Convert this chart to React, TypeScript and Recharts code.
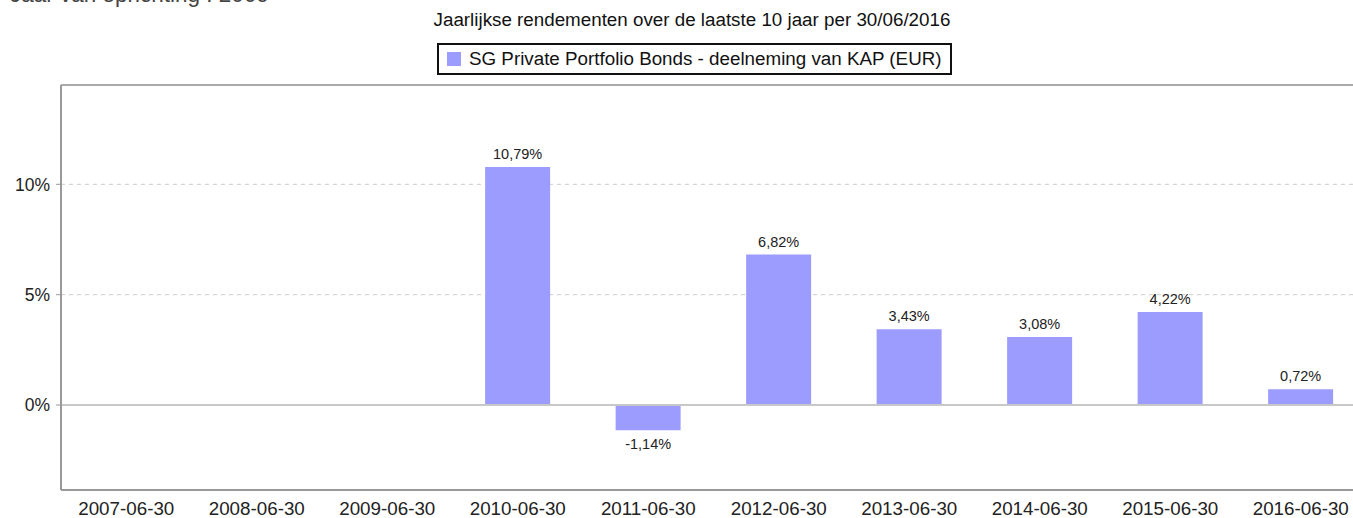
import { Bar, BarChart, CartesianGrid, LabelList, ReferenceLine, XAxis, YAxis } from 'recharts';

const periods = [
  '2007-06-30',
  '2008-06-30',
  '2009-06-30',
  '2010-06-30',
  '2011-06-30',
  '2012-06-30',
  '2013-06-30',
  '2014-06-30',
  '2015-06-30',
  '2016-06-30',
];
const returns: Array<number | null> = [null, null, null, 10.79, -1.14, 6.82, 3.43, 3.08, 4.22, 0.72];
const yTicks = [0, 5, 10];

const seriesName = 'SG Private Portfolio Bonds - deelneming van KAP (EUR)';
const barColor = '#9c9cff';

const data = periods.map((period, i) => ({ period, value: returns[i] }));

const fmt = (v: number) => `${v.toFixed(2).replace('.', ',')}%`;

function ValueLabel(props: any) {
  const { x, y, width, height, value } = props;
  if (value === null || value === undefined) return null;
  const top = Math.min(y, y + height);
  const bottom = Math.max(y, y + height);
  const cx = x + width / 2;
  return (
    <text
      x={cx}
      y={value >= 0 ? top - 8 : bottom + 19}
      textAnchor="middle"
      fontSize={14.5}
      fill="#222"
    >
      {fmt(value)}
    </text>
  );
}

export default function App() {
  return (
    <div
      style={{
        position: 'fixed',
        left: 0,
        top: 0,
        width: 1353,
        height: 518,
        overflow: 'hidden',
        background: '#fff',
        fontFamily: 'Arial, "Liberation Sans", sans-serif',
      }}
    >
      <div style={{ position: 'absolute', left: 10, top: -16, fontSize: 22.5, lineHeight: '22px', color: '#444', whiteSpace: 'nowrap' }}>
        Jaar van oprichting : 2009
      </div>
      <div style={{ position: 'absolute', left: 0, width: 1384, top: 9, textAlign: 'center', fontSize: 18.8, lineHeight: '22px', color: '#111', whiteSpace: 'nowrap' }}>
        Jaarlijkse rendementen over de laatste 10 jaar per 30/06/2016
      </div>
      <div
        style={{
          position: 'absolute',
          left: 437,
          top: 43,
          width: 511,
          height: 28,
          border: '2px solid #111',
          display: 'flex',
          alignItems: 'center',
          fontSize: 18.8,
          color: '#111',
          whiteSpace: 'nowrap',
        }}
      >
        <span style={{ display: 'inline-block', width: 14, height: 14, background: barColor, marginLeft: 8, marginRight: 8 }} />
        {seriesName}
      </div>
      <div style={{ position: 'absolute', left: 0, top: 0 }}>
        <BarChart
          width={1370}
          height={518}
          data={data}
          margin={{ top: 85, right: 4, bottom: 0, left: 0 }}
          barCategoryGap="25%"
        >
          <CartesianGrid vertical={false} stroke="#cccccc" strokeDasharray="4 4" />
          <XAxis
            dataKey="period"
            axisLine={{ stroke: '#999', strokeWidth: 2 }}
            tickLine={false}
            tickMargin={6}
            height={28}
            tick={{ fontSize: 18.8, fill: '#222' }}
            interval={0}
          />
          <YAxis
            width={61}
            domain={[-3.85, 14.5]}
            ticks={yTicks}
            allowDataOverflow
            tickFormatter={(v: number) => `${v}%`}
            axisLine={{ stroke: '#999', strokeWidth: 2 }}
            tickLine={{ stroke: '#999' }}
            tickSize={5}
            tickMargin={6}
            tick={{ fontSize: 17.5, fill: '#222' }}
          />
          <ReferenceLine y={14.5} stroke="#aaa" strokeWidth={2} />
          <ReferenceLine y={0} stroke="#c8c8c8" strokeWidth={2} />
          <Bar dataKey="value" fill={barColor} isAnimationActive={false}>
            <LabelList dataKey="value" content={<ValueLabel />} />
          </Bar>
        </BarChart>
      </div>
    </div>
  );
}
